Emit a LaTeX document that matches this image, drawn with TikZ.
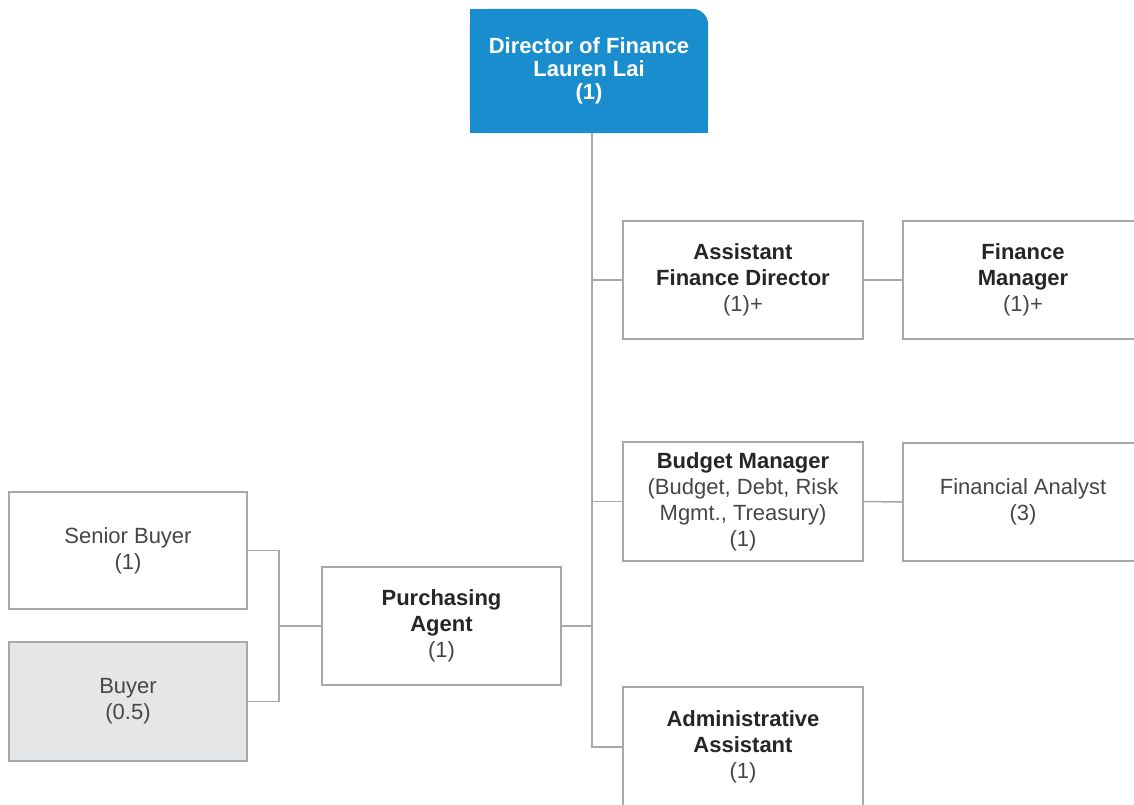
\documentclass[tikz,border=0pt]{standalone}
\usepackage{fontspec}
\setmainfont{Liberation Sans}
\usetikzlibrary{backgrounds}
\definecolor{dirblue}{RGB}{26,141,206}
\definecolor{boxline}{RGB}{168,168,168}
\definecolor{txt}{RGB}{38,38,38}
\definecolor{txtreg}{RGB}{70,70,70}
\definecolor{buyerfill}{RGB}{229,230,231}
\begin{document}
\begin{tikzpicture}[x=1pt,y=-1pt,
  box/.style={draw=boxline, line width=1.5pt, fill=white, minimum width=240pt,
    minimum height=118pt, align=center, text=txt, inner sep=0pt,
    font=\fontsize{22}{26}\selectfont},
  dirnode/.style={minimum width=238pt, minimum height=124pt, align=center,
    text=white, inner sep=0pt, font=\fontsize{22}{23}\selectfont\bfseries},
  conn/.style={draw=boxline, line width=1.5pt}]
\useasboundingbox (0,0) rectangle (1134,804);

% director
\node[dirnode] (dir) at (589,71) {Director of Finance\\Lauren Lai\\(1)};
\begin{scope}[on background layer]
  \fill[white] (0,0) rectangle (1134,804);
  \fill[dirblue, rounded corners=16pt] (dir.south west) rectangle (dir.north east);
  \fill[dirblue] (dir.south west) rectangle (dir.north);
  \fill[dirblue] (dir.south west) rectangle (dir.east);
\end{scope}

\coordinate (trunk) at (592,133);

\node[box] (afd) at (743,280) {\textbf{Assistant}\\\textbf{Finance Director}\\\textcolor{txtreg}{(1)+}};
\node[box] (fm) at (1023,280) {\textbf{Finance}\\\textbf{Manager}\\\textcolor{txtreg}{(1)+}};
\node[box, minimum height=119pt] (bm) at (743,501.5) {\textbf{Budget Manager}\\\textcolor{txtreg}{(Budget, Debt, Risk}\\\textcolor{txtreg}{Mgmt., Treasury)}\\\textcolor{txtreg}{(1)}};
\node[box] (fa) at (1023,502) {\textcolor{txtreg}{Financial Analyst}\\\textcolor{txtreg}{(3)}};
\node[box, minimum height=120pt] (aa) at (743,747) {\textbf{Administrative}\\\textbf{Assistant}\\\textcolor{txtreg}{(1)}};
\node[box, minimum width=239pt] (pa) at (441.5,626) {\textbf{Purchasing}\\\textbf{Agent}\\\textcolor{txtreg}{(1)}};
\node[box, minimum width=238pt, minimum height=117pt] (sb) at (128,550.5) {\textcolor{txtreg}{Senior Buyer}\\\textcolor{txtreg}{(1)}};
\node[box, minimum width=238pt, minimum height=119pt, fill=buyerfill] (buyer) at (128,701.5) {\textcolor{txtreg}{Buyer}\\\textcolor{txtreg}{(0.5)}};

\coordinate (bracket) at (279,626);

\draw[conn] (dir.south -| trunk) -- (aa.west -| trunk) -- (aa.west);
\draw[conn] (afd.west -| trunk) -- (afd.west);
\draw[conn] (bm.west -| trunk) -- (bm.west);
\draw[conn] (pa.east) -- (pa.east -| trunk);
\draw[conn] (afd.east) -- (fm.west);
\draw[conn] (bm.east) -- (fa.west);
\draw[conn] (sb.east) -- (sb.east -| bracket) -- (buyer.east -| bracket) -- (buyer.east);
\draw[conn] (pa.west) -- (pa.west -| bracket);
\end{tikzpicture}
\end{document}
